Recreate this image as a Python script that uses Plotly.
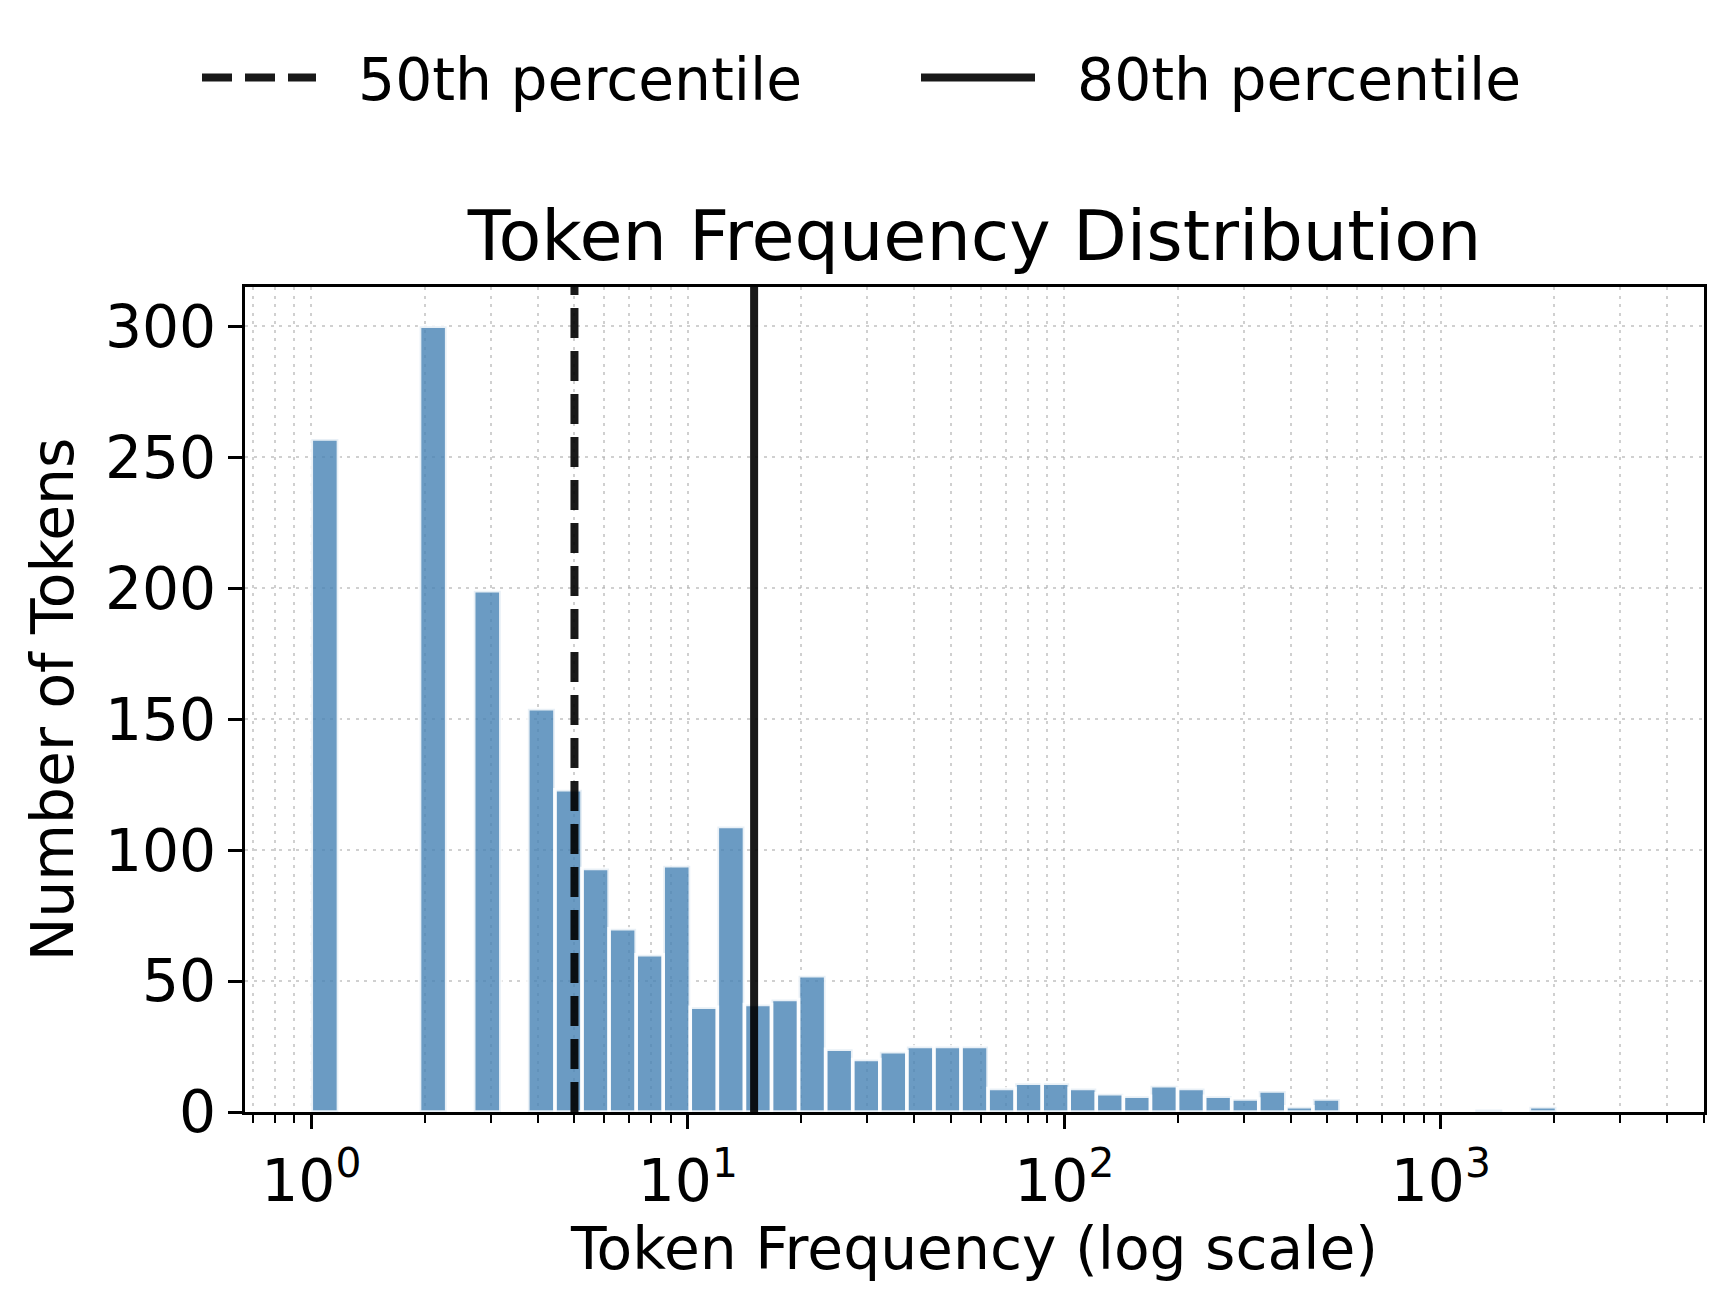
import numpy as np
import plotly.graph_objects as go

# ---------------- data ----------------
MAX_FREQ = 3334          # largest token frequency (upper bin edge)
N_EDGES = 50             # number of log-spaced bin edges (49 bins)
counts = [257, 0, 0, 0, 300, 0, 199, 0, 154, 123,
          93, 70, 60, 94, 40, 109, 41, 43, 52, 24,
          20, 23, 25, 25, 25, 9, 11, 11, 9, 7,
          6, 10, 9, 6, 5, 8, 2, 5, 0, 0,
          0, 0, 0, 1, 0, 2, 0, 0, 0]
p50 = 5
p80 = 15
x_tickvals = [1, 10, 100, 1000]
x_ticktext = ["10<sup>0</sup>", "10<sup>1</sup>", "10<sup>2</sup>", "10<sup>3</sup>"]
y_tickvals = [0, 50, 100, 150, 200, 250, 300]
y_ticktext = ["0", "50", "100", "150", "200", "250", "300"]

edges = np.logspace(0, np.log10(MAX_FREQ), N_EDGES)
y_top = max(counts) * 1.05
lo = np.log10(edges[0]); hi = np.log10(edges[-1])
pad = 0.05 * (hi - lo)
x_range = [lo - pad, hi + pad]

# minor ticks (2..9 per decade) within the visible range
minor_vals = []
for d in range(-1, 4):
    for m in range(2, 10):
        v = m * 10.0 ** d
        if x_range[0] <= np.log10(v) <= x_range[1]:
            minor_vals.append(v)

# ---------------- bars as rectangles ----------------
bx, by = [], []
for i, c in enumerate(counts):
    if c <= 0:
        continue
    a, b = edges[i], edges[i + 1]
    bx += [a, a, b, b, a, None]
    by += [0, c, c, 0, 0, None]

FONT = "DejaVu Sans"
FS = 58.3
NB = "\u00a0\u00a0"
W, H = 1717, 1288   # page body adds an 8px margin around the figure

fig = go.Figure()
fig.add_trace(go.Scatter(
    x=bx, y=by, mode="lines", fill="toself",
    fillcolor="rgba(70,130,180,0.8)",
    line=dict(color="rgba(255,255,255,0.85)", width=3.5),
    showlegend=False, hoverinfo="skip", name="Tokens"))

fig.add_trace(go.Scatter(
    x=[p50, p50], y=[0, y_top], mode="lines", name=NB + "50th percentile",
    line=dict(color="rgba(0,0,0,0.9)", width=8, dash="30px,13px")))
fig.add_trace(go.Scatter(
    x=[p80, p80], y=[0, y_top], mode="lines", name=NB + "80th percentile",
    line=dict(color="rgba(0,0,0,0.9)", width=8)))

grid_col = "rgba(176,176,176,0.6)"
fig.update_layout(
    width=W, height=H,
    margin=dict(l=237, r=21, t=279, b=184, autoexpand=False),
    paper_bgcolor="white", plot_bgcolor="white",
    font=dict(family=FONT, size=FS, color="black"),
    title=dict(text="Token Frequency Distribution", font=dict(size=70),
               x=0.5, xref="paper", xanchor="center",
               y=1 - 227.5 / H, yref="container", yanchor="middle"),
    legend=dict(orientation="h", x=189 / W, xref="container", xanchor="left",
                y=1 - 69.5 / H, yref="container", yanchor="middle",
                font=dict(size=FS), itemwidth=114, entrywidth=590,
                entrywidthmode="pixels", bgcolor="rgba(0,0,0,0)"),
)
fig.update_xaxes(
    type="log", range=x_range,
    tickvals=x_tickvals, ticktext=x_ticktext,
    ticks="outside", ticklen=14, tickwidth=3.3, tickcolor="black",
    showline=True, linecolor="black", linewidth=3.3, mirror=True,
    showgrid=True, gridcolor=grid_col, gridwidth=2, griddash="3px,5.5px",
    minor=dict(tickvals=minor_vals, ticks="outside", ticklen=8, tickwidth=2.4,
               tickcolor="black", showgrid=True, gridcolor=grid_col,
               gridwidth=2, griddash="3px,5.5px"),
    tickfont=dict(size=FS), ticklabelstandoff=2,
    title=dict(text="Token Frequency (log scale)", font=dict(size=FS), standoff=0),
    zeroline=False,
)
fig.update_yaxes(
    range=[0, y_top], tickvals=y_tickvals, ticktext=y_ticktext,
    ticks="outside", ticklen=14, tickwidth=3.3, tickcolor="black",
    showline=True, linecolor="black", linewidth=3.3, mirror=True,
    showgrid=True, gridcolor=grid_col, gridwidth=2, griddash="3px,5.5px",
    tickfont=dict(size=FS), ticklabelstandoff=0,
    title=dict(text="Number of Tokens", font=dict(size=FS), standoff=13),
    zeroline=False,
)
fig.write_html("out.html")
